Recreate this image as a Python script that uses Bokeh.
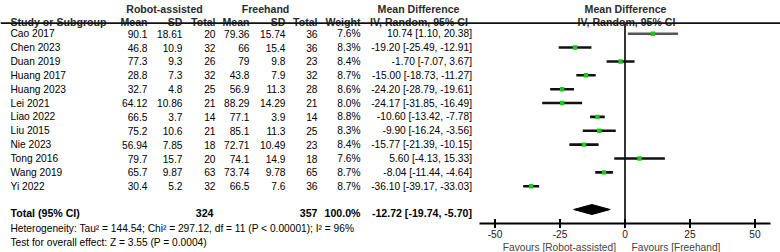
from bokeh.plotting import figure
from bokeh.models import Range1d, ColumnDataSource
from bokeh.core.properties import value
from bokeh.embed import file_html
from bokeh.resources import INLINE

# ---------------- data ----------------
studies = ["Cao 2017", "Chen 2023", "Duan 2019", "Huang 2017", "Huang 2023", "Lei 2021",
           "Liao 2022", "Liu 2015", "Nie 2023", "Tong 2016", "Wang 2019", "Yi 2022"]
r_mean = [90.1, 46.8, 77.3, 28.8, 32.7, 64.12, 66.5, 75.2, 56.94, 79.7, 65.7, 30.4]
r_sd = [18.61, 10.9, 9.3, 7.3, 4.8, 10.86, 3.7, 10.6, 7.85, 15.7, 9.87, 5.2]
r_n = [20, 32, 26, 32, 25, 21, 14, 21, 18, 20, 63, 32]
f_mean = [79.36, 66, 79, 43.8, 56.9, 88.29, 77.1, 85.1, 72.71, 74.1, 73.74, 66.5]
f_sd = [15.74, 15.4, 9.8, 7.9, 11.3, 14.29, 3.9, 11.3, 10.49, 14.9, 9.78, 7.6]
f_n = [36, 36, 23, 32, 28, 21, 14, 25, 23, 18, 65, 36]
weight = [7.6, 8.3, 8.4, 8.7, 8.6, 8.0, 8.8, 8.3, 8.4, 7.6, 8.7, 8.7]
md = [10.74, -19.20, -1.70, -15.00, -24.20, -24.17, -10.60, -9.90, -15.77, 5.60, -8.04, -36.10]
ci_lo = [1.10, -25.49, -7.07, -18.73, -28.79, -31.85, -13.42, -16.24, -21.39, -4.13, -11.44, -39.17]
ci_hi = [20.38, -12.91, 3.67, -11.27, -19.61, -16.49, -7.78, -3.56, -10.15, 15.33, -4.64, -33.03]

total_r = 324
total_f = 357
total_weight = 100.0
pooled_md = -12.72
pooled_lo = -19.74
pooled_hi = -5.70

heterogeneity = "Heterogeneity: Tau\u00b2 = 144.54; Chi\u00b2 = 297.12, df = 11 (P < 0.00001); I\u00b2 = 96%"
overall_test = "Test for overall effect: Z = 3.55 (P = 0.0004)"
axis_ticks = [-50, -25, 0, 25, 50]
favours_left = "Favours [Robot-assisted]"
favours_right = "Favours [Freehand]"

# ---------------- layout helpers ----------------
W, H = 780, 252
ZERO_PX = 624.5
PPU = 2.6  # pixels per unit of mean difference


def X(px):
    return (px - ZERO_PX) / PPU


FONT = value("Liberation Sans")
FS = "10.2px"
FS_BOLD = "10.6px"
BODY = "#000000"
HEAD = "#2b2b2b"

row_y0, row_dy = 33.2, 13.87
rows_y = [row_y0 + row_dy * i for i in range(len(studies))]

p = figure(width=W, height=H, x_range=Range1d(X(0), X(W)), y_range=Range1d(H, 0),
           output_backend="svg", toolbar_location=None, min_border=0,
           x_axis_location=None, y_axis_location=None)
p.grid.visible = False
p.outline_line_color = None
p.background_fill_color = "white"
p.border_fill_color = "white"


def fmt(v):
    return f"{v:g}"


def txt(xs, ys, texts, align="left", bold=False, color=BODY, baseline="middle"):
    p.text(x=xs, y=ys, text=texts, text_font=FONT,
           text_font_size=FS_BOLD if bold else FS,
           text_font_style="bold" if bold else "normal",
           text_align=align, text_baseline=baseline, text_color=color)


# ---------------- header ----------------
txt([X(164)], [8.8], ["Robot-assisted"], align="center", bold=True, color=HEAD, baseline="alphabetic")
txt([X(265)], [8.8], ["Freehand"], align="center", bold=True, color=HEAD, baseline="alphabetic")
txt([X(418), X(625)], [8.8, 8.8], ["Mean Difference", "Mean Difference"], align="center",
    bold=True, color=HEAD, baseline="alphabetic")
txt([X(10)], [21], ["Study or Subgroup"], bold=True, color=HEAD, baseline="alphabetic")
txt([X(147), X(182), X(215), X(249), X(285), X(317), X(360)], [21] * 7,
    ["Mean", "SD", "Total", "Mean", "SD", "Total", "Weight"], align="right", bold=True,
    color=HEAD, baseline="alphabetic")
txt([X(418.5), X(626)], [21, 21], ["IV, Random, 95% CI", "IV, Random, 95% CI"], align="center",
    bold=True, color=HEAD, baseline="alphabetic")
p.segment(x0=[X(0)], y0=[22.6], x1=[X(W)], y1=[22.6], line_color="#111111", line_width=1.6)

# ---------------- table rows ----------------
n = len(studies)
txt([X(10)] * n, rows_y, studies)
txt([X(147)] * n, rows_y, [fmt(v) for v in r_mean], align="right")
txt([X(182)] * n, rows_y, [fmt(v) for v in r_sd], align="right")
txt([X(215)] * n, rows_y, [str(v) for v in r_n], align="right")
txt([X(249)] * n, rows_y, [fmt(v) for v in f_mean], align="right")
txt([X(285)] * n, rows_y, [fmt(v) for v in f_sd], align="right")
txt([X(317)] * n, rows_y, [str(v) for v in f_n], align="right")
txt([X(360)] * n, rows_y, [f"{v:.1f}%" for v in weight], align="right")
txt([X(471.5)] * n, rows_y,
    [f"{m:.2f} [{a:.2f}, {b:.2f}]" for m, a, b in zip(md, ci_lo, ci_hi)], align="right")

# totals
y_tot = 212.8
txt([X(10)], [y_tot], ["Total (95% CI)"], bold=True)
txt([X(213), X(317), X(360), X(471.5)], [y_tot] * 4,
    [str(total_r), str(total_f), f"{total_weight:.1f}%",
     f"{pooled_md:.2f} [{pooled_lo:.2f}, {pooled_hi:.2f}]"], align="right", bold=True)
txt([X(10)], [227.6], [heterogeneity])
txt([X(10)], [242.2], [overall_test])

# ---------------- forest plot ----------------
# line of no effect
p.segment(x0=[0], y0=[22.6], x1=[0], y1=[223], line_color="#333333", line_width=2)

line_colors = ["#555555"] + ["#111111"] * (n - 1)
src = ColumnDataSource(dict(lo=ci_lo, hi=ci_hi, md=md, y=rows_y, c=line_colors))
p.segment(x0="lo", y0="y", x1="hi", y1="y", source=src, line_color="c", line_width=2.6)
p.scatter(x="md", y="y", source=src, marker="square", size=4.4,
          fill_color="#19c819", line_color=None)

# pooled diamond
y_d = 209
p.patch(x=[pooled_lo, pooled_md, pooled_hi, pooled_md], y=[y_d, y_d - 5, y_d, y_d + 5],
        fill_color="black", line_color="black", line_width=1)

# axis
y_ax = 223
p.segment(x0=[X(479)], y0=[y_ax], x1=[X(770)], y1=[y_ax], line_color="black", line_width=2)
p.segment(x0=axis_ticks, y0=[y_ax - 4.5] * len(axis_ticks), x1=axis_ticks,
          y1=[y_ax + 4.5] * len(axis_ticks), line_color="black", line_width=2)
txt(axis_ticks, [233.5] * len(axis_ticks), [str(t) for t in axis_ticks], align="center",
    color="#1a1a1a")
txt([X(615.5)], [246.5], [favours_left], align="right", color="#444444")
txt([X(631)], [246.5], [favours_right], align="left", color="#444444")

open("out.html", "w").write(file_html(p, INLINE))
